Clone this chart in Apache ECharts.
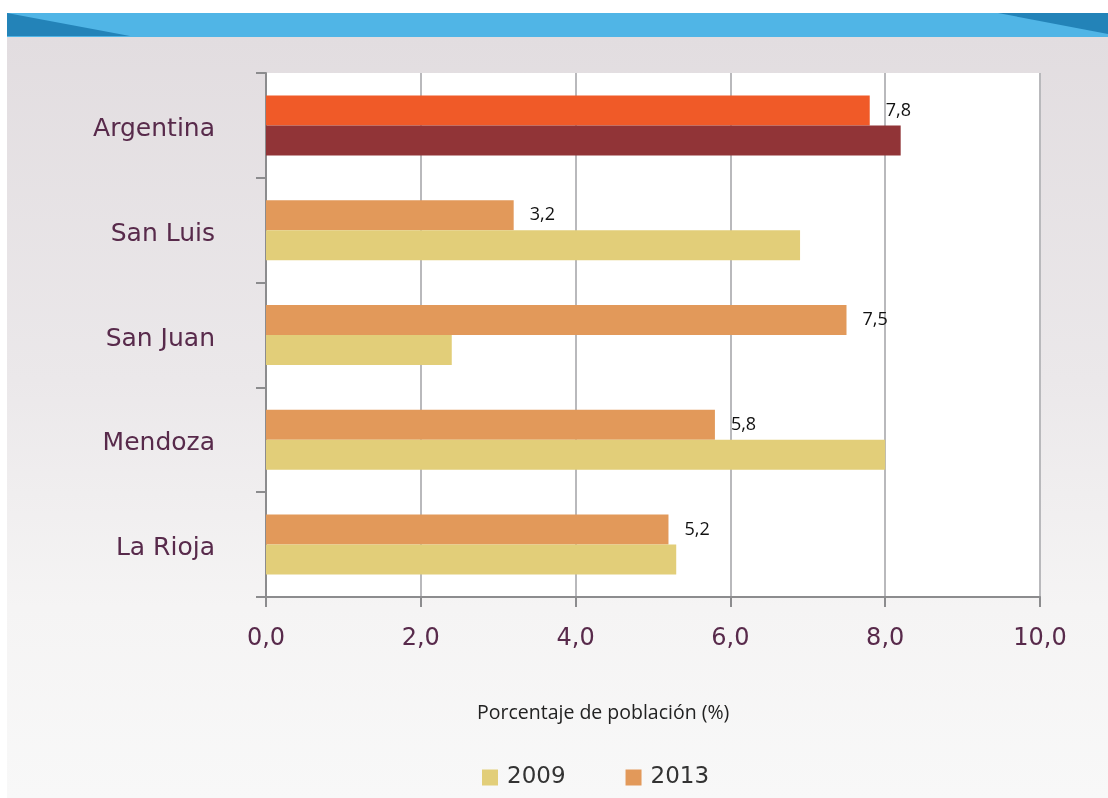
<!DOCTYPE html>
<html>
<head>
<meta charset="utf-8">
<script src="https://cdn.jsdelivr.net/npm/echarts@6/dist/echarts.min.js"></script>
<style>
  html, body { margin: 0; padding: 0; background: #fff; }
  #page { position: absolute; left: 7px; top: 37px; width: 1101px; height: 761px;
          background: linear-gradient(to bottom, #e2dde0 0%, #ebe8ea 45%, #f5f4f4 75%, #f8f8f8 100%); }
  #band { position: absolute; left: 7px; top: 13px; width: 1101px; height: 24px; }
  #main { position: absolute; left: 0; top: 0; width: 1108px; height: 798px; }
</style>
</head>
<body>
<div id="page"></div>
<svg id="band" viewBox="0 0 1101 24">
  <rect x="0" y="0" width="1101" height="24" fill="#50b5e6" />
  <polygon points="0,0 123,23 0,23" fill="#2383b8" />
  <polygon points="991,0 1101,0 1101,21" fill="#2383b8" />
</svg>
<div id="main"></div>
<script>
const regions = ['Argentina', 'San Luis', 'San Juan', 'Mendoza', 'La Rioja']
const values2009 = [8.2, 6.9, 2.4, 8.0, 5.3]
const values2013 = [7.8, 3.2, 7.5, 5.8, 5.2]
const xTicks = [0, 2, 4, 6, 8, 10]

const purple = '#582a4b'
const labelFont = 'DejaVu Sans'
const comma = (v) => v.toFixed(1).replace('.', ',')

// Argentina tiene colores propios
const data2013 = values2013.map((v, i) => i === 0 ? { value: v, itemStyle: { color: '#f05a28' } } : v)
const data2009 = values2009.map((v, i) => i === 0 ? { value: v, itemStyle: { color: '#913437' } } : v)

const chart = echarts.init(document.getElementById('main'))
chart.setOption({
  animation: false,
  backgroundColor: 'transparent',
  title: {
    text: 'Porcentaje de población (%)',
    left: 472,
    top: 698,
    textStyle: { fontFamily: 'Open Sans', fontSize: 19.5, fontWeight: 'normal', color: '#222' }
  },
  grid: {
    left: 266,
    right: 68,
    top: 73,
    bottom: 201,
    show: true,
    backgroundColor: '#fff',
    borderWidth: 0
  },
  legend: {
    data: ['2009', '2013'],
    left: 477,
    top: 761,
    itemWidth: 16,
    itemHeight: 16,
    itemGap: 60,
    icon: 'rect',
    textStyle: { fontFamily: labelFont, fontSize: 23, color: '#333', padding: [0, 0, 0, 4] }
  },
  xAxis: {
    type: 'value',
    min: xTicks[0],
    max: xTicks[xTicks.length - 1],
    interval: 2,
    axisLine: { show: true, lineStyle: { color: '#8c8c8e', width: 2 } },
    axisTick: { show: true, length: 10, lineStyle: { color: '#8c8c8e', width: 2 } },
    axisLabel: {
      margin: 30,
      fontFamily: labelFont,
      fontSize: 24,
      color: purple,
      formatter: (v) => comma(v)
    },
    splitLine: { show: true, lineStyle: { color: '#b9b9bc', width: 2 } }
  },
  yAxis: {
    type: 'category',
    data: regions,
    inverse: true,
    axisLine: { show: true, lineStyle: { color: '#8c8c8e', width: 2 } },
    axisTick: { show: true, length: 10, lineStyle: { color: '#8c8c8e', width: 2 } },
    axisLabel: {
      margin: 51,
      formatter: (v) => '{r|' + v + '}',
      rich: {
        r: { fontFamily: labelFont, fontSize: 25, color: purple, padding: [8, 0, 0, 0] }
      }
    }
  },
  series: [
    {
      name: '2013',
      type: 'bar',
      data: data2013,
      itemStyle: { color: '#e2995a' },
      barWidth: 30,
      barGap: '0%',
      label: {
        show: true,
        position: 'right',
        distance: 16,
        fontFamily: 'Open Sans',
        fontSize: 18,
        color: '#111',
        padding: [0, 0, 4, 0],
        formatter: (p) => comma(p.value)
      }
    },
    {
      name: '2009',
      type: 'bar',
      data: data2009,
      itemStyle: { color: '#e2ce79' },
      barWidth: 30,
      barGap: '0%'
    }
  ]
})
</script>
</body>
</html>
